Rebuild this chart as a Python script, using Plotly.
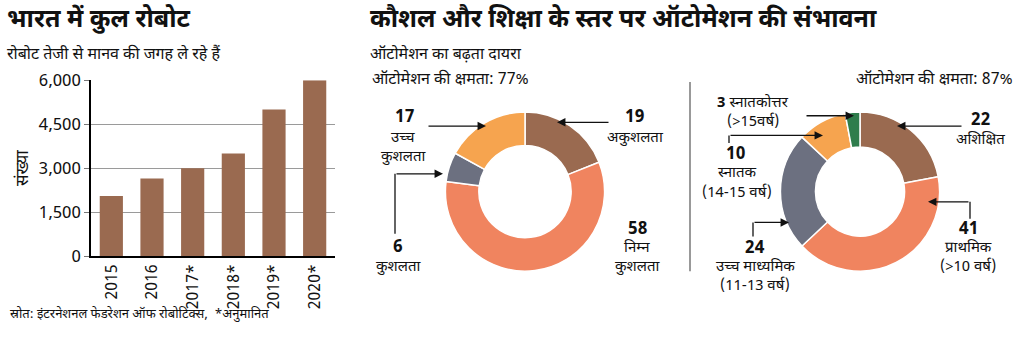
import plotly.graph_objects as go

# ---------------- data ----------------
years = ["2015", "2016", "2017*", "2018*", "2019*", "2020*"]
robots = [2050, 2650, 3000, 3500, 5000, 6000]
y_ticks = [0, 1500, 3000, 4500, 6000]
y_ticklabels = ["0", "1,500", "3,000", "4,500", "6,000"]

skill_labels = ["अकुशलता", "निम्न<br>कुशलता", "कुशलता", "उच्च<br>कुशलता"]
skill_vals = [19, 58, 6, 17]
skill_potential = 77

edu_labels = ["अशिक्षित", "प्राथमिक<br>(>10 वर्ष)", "उच्च माध्यमिक<br>(11-13 वर्ष)",
              "स्नातक<br>(14-15 वर्ष)", "स्नातकोत्तर<br>(>15वर्ष)"]
edu_vals = [22, 41, 24, 10, 3]
edu_potential = 87

BROWN = "#9a6a50"
SALMON = "#f0845f"
GREY = "#6c7080"
ORANGE = "#f6a44f"
GREEN = "#2f7d4c"

W, H = 1024, 345
FONT = "Liberation Sans Narrow, Noto Sans Devanagari, Noto Sans, Lato, sans-serif"


def px(x):
    return x / W


def py(y):
    return 1 - y / H


fig = go.Figure()

# ---------------- bar chart ----------------
fig.add_trace(go.Bar(x=years, y=robots, marker_color=BROWN, marker_line_width=0,
                     xaxis="x", yaxis="y", showlegend=False))

fig.update_layout(
    xaxis=dict(domain=[px(91), px(335)], showgrid=False, showline=True, linecolor="#000",
               linewidth=1.5, tickangle=-90, tickfont=dict(size=16, color="#111", family=FONT),
               ticks="", fixedrange=True),
    yaxis=dict(domain=[py(264), py(76)], range=[0, 6000], tickvals=y_ticks, ticktext=y_ticklabels,
               showgrid=True, gridcolor="#9a9a9a", gridwidth=1, showline=True, linecolor="#000",
               linewidth=1.5, ticks="outside", ticklen=5, tickcolor="#777",
               tickfont=dict(size=17, color="#111", family=FONT), zeroline=False,
               title=dict(text="संख्या", font=dict(size=17, color="#111", family=FONT), standoff=6)),
    bargap=0.43,
)

# ---------------- donuts ----------------
fig.add_trace(go.Pie(values=skill_vals, labels=[l.replace("<br>", " ") for l in skill_labels],
                     hole=0.58, sort=False, direction="clockwise", rotation=0,
                     marker=dict(colors=[BROWN, SALMON, GREY, ORANGE], line=dict(color="white", width=1.5)),
                     textinfo="none", showlegend=False,
                     domain=dict(x=[px(440), px(610)], y=[py(280), py(110)])))

fig.add_trace(go.Pie(values=edu_vals, labels=[l.replace("<br>", " ") for l in edu_labels],
                     hole=0.56, sort=False, direction="clockwise", rotation=0,
                     marker=dict(colors=[BROWN, SALMON, GREY, ORANGE, GREEN], line=dict(color="white", width=1.5)),
                     textinfo="none", showlegend=False,
                     domain=dict(x=[px(775), px(945)], y=[py(280), py(110)])))

ann = []


def text(x, y, s, size=15, bold=False, xanchor="center", yanchor="middle"):
    ann.append(dict(x=px(x), y=py(y), xref="paper", yref="paper", text=("<b>%s</b>" % s) if bold else s,
                    showarrow=False, xanchor=xanchor, yanchor=yanchor, align="center",
                    font=dict(size=size, color="#111", family=FONT)))


def lines(x, y, s, size=15, step=20):
    for i, part in enumerate(s.split("<br>")):
        text(x, y + i * step, part, size=size)


def arrow(x0, y0, x1, y1):
    ann.append(dict(x=px(x1), y=py(y1), xref="paper", yref="paper", ax=x0 - x1, ay=y0 - y1,
                    axref="pixel", ayref="pixel", text="", showarrow=True, arrowhead=2,
                    arrowsize=1.3, arrowwidth=1.3, arrowcolor="#111"))


shapes = []


def seg(x0, y0, x1, y1, color="#111", width=1.3):
    shapes.append(dict(type="line", xref="paper", yref="paper", x0=px(x0), y0=py(y0), x1=px(x1), y1=py(y1),
                       line=dict(color=color, width=width)))


# titles
text(5, 12, "भारत में कुल रोबोट", size=25, bold=True, xanchor="left")
text(5, 49, "रोबोट तेजी से मानव की जगह ले रहे हैं", size=16, xanchor="left")
text(368, 12, "कौशल और शिक्षा के स्तर पर ऑटोमेशन की संभावना", size=25, bold=True, xanchor="left")
text(368, 49, "ऑटोमेशन का बढ़ता दायरा", size=16, xanchor="left")
text(370, 76, "ऑटोमेशन की क्षमता: %d%%" % skill_potential, size=16, xanchor="left")
text(1015, 76, "ऑटोमेशन की क्षमता: %d%%" % edu_potential, size=16, xanchor="right")
text(8, 326, "स्रोत: इंटरनेशनल फेडरेशन ऑफ रोबोटिक्स,  *अनुमानित", size=13, xanchor="left")

# separator
seg(690, 78, 690, 280, color="#777", width=1.5)

# donut 1 labels
text(404, 116, "%d" % skill_vals[3], size=17, bold=True)
lines(403, 138, skill_labels[3], step=21)
arrow(427, 125, 486, 125)

text(634, 116, "%d" % skill_vals[0], size=17, bold=True)
lines(635, 138, skill_labels[0])
arrow(610, 121, 557, 121)

seg(395, 240, 395, 176)
arrow(395, 176, 443, 176)
text(398, 255, "%d" % skill_vals[2], size=17, bold=True)
lines(398, 276, skill_labels[2])

text(637, 236, "%d" % skill_vals[1], size=17, bold=True)
lines(637, 256, skill_labels[1])

# donut 2 labels
text(753, 101, "<b>%d</b> %s" % (edu_vals[4], edu_labels[4].split("<br>")[0]), size=15)
text(753, 121, edu_labels[4].split("<br>")[1], size=15)
arrow(805, 114, 854, 114)

text(980, 120, "%d" % edu_vals[0], size=17, bold=True)
lines(980, 140, edu_labels[0])
arrow(963, 125, 897, 125)

seg(729, 143, 729, 135)
arrow(729, 135, 823, 135)
text(735, 156, "%d" % edu_vals[3], size=17, bold=True)
lines(737, 176, edu_labels[3])

seg(753, 243, 753, 228)
arrow(753, 228, 789, 228)
text(755, 256, "%d" % edu_vals[2], size=17, bold=True)
lines(755, 276, edu_labels[2])

seg(970, 224, 970, 206)
arrow(970, 206, 928, 206)
text(968, 236, "%d" % edu_vals[1], size=17, bold=True)
lines(968, 256, edu_labels[1])

fig.update_layout(
    width=W, height=H, margin=dict(l=0, r=0, t=0, b=0),
    paper_bgcolor="white", plot_bgcolor="white",
    annotations=ann, shapes=shapes,
    font=dict(family=FONT, color="#111"),
)

fig.write_html("out.html")
